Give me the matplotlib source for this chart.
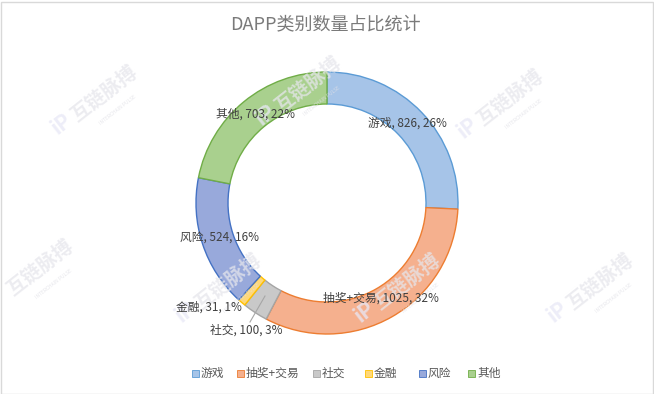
import matplotlib.pyplot as plt
from matplotlib.patches import Rectangle

plt.rcParams['font.family'] = ['Noto Sans CJK SC', 'DejaVu Sans']

categories = ['游戏', '抽奖+交易', '社交', '金融', '风险', '其他']
counts = [826, 1025, 100, 31, 524, 703]
percents = ['26%', '32%', '3%', '1%', '16%', '22%']
fills = ['#a6c4e8', '#f5b08e', '#c9c9c9', '#ffd879', '#98a9db', '#a9d08e']
edges = ['#5b9bd5', '#ed7d31', '#a5a5a5', '#ffc000', '#4472c4', '#70ad47']

# label centres in pixels (x, y from top)
label_pos = [(407, 123), (381, 298), (246, 330), (209, 307), (219, 237), (255, 114)]
# watermark text centres
marks = [(104, 94), (308, 85), (510, 98), (40, 268), (228, 282), (407, 282), (600, 282)]

W, H = 654, 394
fig = plt.figure(figsize=(W / 100, H / 100), dpi=100)
ax = fig.add_axes([0, 0, 1, 1])
ax.set_xlim(0, W)
ax.set_ylim(0, H)
ax.axis('off')

cx, cy, r = 327, H - 203, 131
wedges, _ = ax.pie(counts, center=(cx, cy), radius=r, startangle=90,
                   counterclock=False, colors=fills,
                   wedgeprops=dict(width=32, linewidth=1.0))
for w, ec in zip(wedges, edges):
    w.set_edgecolor(ec)
ax.set_xlim(0, W)
ax.set_ylim(0, H)
ax.set_aspect('equal')

# faint watermarks (drawn over the ring, under the labels)
for x, y in marks:
    ax.text(x, H - y, '互链脉搏', ha='center', va='center', rotation=38,
            fontsize=14, fontweight='bold', color='#e6e6ec', alpha=0.75, zorder=4)
    ax.text(x + 14, H - y - 16, 'INTERCHAIN PULSE', ha='center', va='center',
            rotation=38, fontsize=3.5, color='#e0e0e6', alpha=0.8, zorder=4)
    if x > 60:
        ax.text(x - 42, H - y - 30, 'iP', ha='center', va='center', rotation=38,
                fontsize=15, fontweight='bold', color='#e8e8f6', alpha=0.75, zorder=4)

for cat, n, p, (x, y) in zip(categories, counts, percents, label_pos):
    ax.text(x, H - y, f'{cat}, {n}, {p}', ha='center', va='center',
            fontsize=8.5, color='#404040', zorder=6)

# leader line for 社交
ax.plot([250, 265], [H - 322, H - 296], color='#a6a6a6', lw=0.8, zorder=5)

ax.text(325, H - 25, 'DAPP类别数量占比统计', ha='center', va='center',
        fontsize=13, color='#7a7a7a')

# legend
leg_x = [195, 240, 316, 368, 422, 471]
for cat, fc, ec, x in zip(categories, fills, edges, leg_x):
    ax.add_patch(Rectangle((x - 3, H - 377), 7, 7, facecolor=fc, edgecolor=ec, lw=0.6))
    ax.text(x + 6, H - 373, cat, ha='left', va='center', fontsize=8.5, color='#595959')

fig.add_artist(Rectangle((0.5, 0.5), W - 2, H - 2, transform=None, fill=False,
                         edgecolor='#d9d9d9', lw=1))

fig.savefig('out.png', dpi=100)
